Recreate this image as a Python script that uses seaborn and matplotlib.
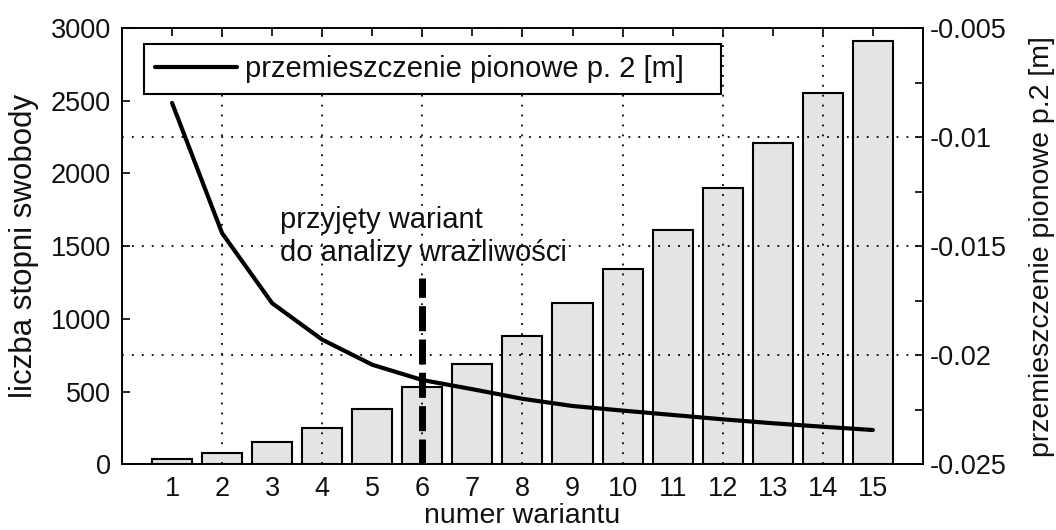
import numpy as np
import pandas as pd
import matplotlib
matplotlib.use("Agg")
import matplotlib.pyplot as plt
import seaborn as sns

# ==========================================
# Data
# ==========================================
variants = [1, 2, 3, 4, 5, 6, 7, 8, 9, 10, 11, 12, 13, 14, 15]
dof = [36, 80, 158, 254, 378, 531, 691, 883, 1110, 1341, 1612, 1898, 2207, 2551, 2913]
displacement = [-0.00843, -0.0144, -0.01761, -0.01928, -0.02043, -0.02113, -0.02155,
                -0.02199, -0.02232, -0.02253, -0.02273, -0.02293, -0.02311, -0.02327, -0.02342]
chosen_variant = 6
chosen_marker_top = 1280

left_ticks = [0, 500, 1000, 1500, 2000, 2500, 3000]
right_ticks = [-0.025, -0.02, -0.015, -0.01, -0.005]
right_tick_labels = ["-0.025", "-0.02", "-0.015", "-0.01", "-0.005"]
right_minor_ticks = [-0.0225, -0.0175, -0.0125, -0.0075]
grid_x = [2, 4, 6, 8, 10, 12, 14]

df = pd.DataFrame({"wariant": variants, "dof": dof, "disp": displacement})

# ==========================================
# Style
# ==========================================
sns.set_style("white")
plt.rcParams["font.family"] = ["Liberation Sans", "DejaVu Sans"]
plt.rcParams.update({"text.color": "#111111", "axes.labelcolor": "#111111",
                     "xtick.color": "black", "ytick.color": "black",
                     "xtick.labelcolor": "#111111", "ytick.labelcolor": "#111111"})
FS_TICK = 19.5
FS_TEXT = 21
DOTS = (0, (1, 4.5))

fig = plt.figure(figsize=(10.56, 5.30), dpi=100)
ax = fig.add_axes([0.1155, 0.1236, 0.7585, 0.8236])

sns.barplot(data=df, x="wariant", y="dof", native_scale=True, width=0.8,
            color="#e4e4e4", edgecolor="black", linewidth=1.5, saturation=1,
            ax=ax, zorder=1)

ax.set_xlim(0, 16)
ax.set_ylim(0, 3000)
ax.set_xticks(variants)
ax.set_xticklabels([str(v) for v in variants])
ax.set_yticks(left_ticks)
ax.tick_params(axis="both", which="major", direction="in", length=6, width=1.2,
               labelsize=FS_TICK, top=True, pad=8)
ax.set_xlabel("numer wariantu", fontsize=20.5, labelpad=1)
ax.set_ylabel("liczba stopni swobody", fontsize=22.5, labelpad=8)

# vertical dotted grid (every second variant), over the bars
ax.vlines(grid_x, 0, 1, transform=ax.get_xaxis_transform(), colors="black",
          linewidth=1.3, linestyles=DOTS, zorder=2.5)

ax2 = ax.twinx()
sns.lineplot(data=df, x="wariant", y="disp", color="black", linewidth=3,
             ax=ax2, label="przemieszczenie pionowe p. 2 [m]", zorder=3)
ax2.set_ylim(-0.025, -0.005)
ax2.set_yticks(right_ticks)
ax2.set_yticklabels(right_tick_labels)
ax2.set_yticks(right_minor_ticks, minor=True)
ax2.tick_params(axis="y", which="both", direction="in", length=6, width=1.2,
                labelsize=FS_TICK, pad=5)
ax2.set_ylabel("przemieszczenie pionowe p.2 [m]", fontsize=20.5, labelpad=16)

# dotted horizontal grid from the right axis, drawn over the bars
ax2.grid(True, axis="y", which="major", linestyle=DOTS, color="black", linewidth=1.3)

# chosen variant marker (drawn above the curve)
ax2.vlines(chosen_variant, 0, chosen_marker_top, transform=ax.transData,
           colors="black", linewidth=5, linestyles=(0, (3.6, 1.2)), zorder=4)
ax2.text(3.16, 1775, "przyjęty wariant\ndo analizy wrażliwości", transform=ax.transData,
         fontsize=FS_TEXT, va="top", ha="left", linespacing=1.2, zorder=5)

for a in (ax, ax2):
    for s in a.spines.values():
        s.set_color("black")
        s.set_linewidth(1.2)

leg = ax2.legend(loc="upper left", bbox_to_anchor=(0.0275, 0.80, 0.720, 0.163),
                 mode="expand", borderaxespad=0,
                 fontsize=FS_TEXT, handlelength=2.8, fancybox=False, framealpha=1,
                 edgecolor="black", borderpad=0.38, handletextpad=0.3)
leg.get_frame().set_linewidth(1.5)

fig.savefig("out.png", dpi=100)
